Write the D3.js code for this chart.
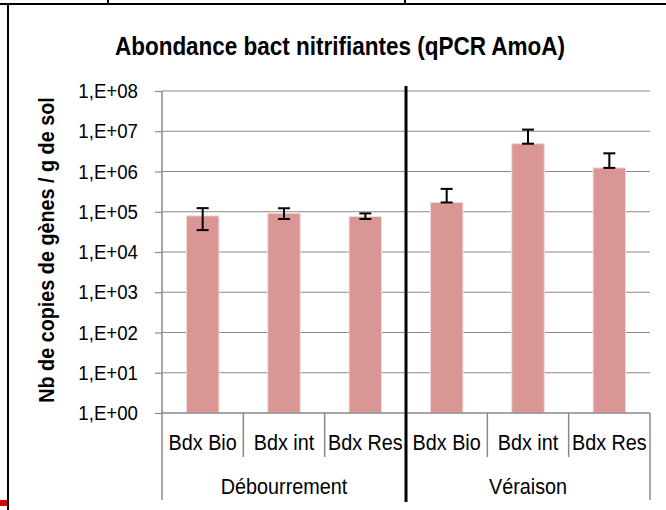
<!DOCTYPE html>
<html><head><meta charset="utf-8">
<script src="https://cdn.jsdelivr.net/npm/d3@7"></script>
<style>
body{margin:0;background:#fff;}
svg{display:block;}
text{font-family:"Liberation Sans Narrow","Arial Narrow","Liberation Sans",Arial,sans-serif;fill:#000;}
</style></head>
<body>
<svg id="chart" width="666" height="510"></svg>
<script>
const title = "Abondance bact nitrifiantes (qPCR AmoA)";
const yTitle = "Nb de copies de gènes / g de sol";
const groups = ["Débourrement", "Véraison"];
const subCategories = ["Bdx Bio", "Bdx int", "Bdx Res", "Bdx Bio", "Bdx int", "Bdx Res"];
const categoryGroup = [0, 0, 0, 1, 1, 1];
const values = [7.9e4, 9.2e4, 7.6e4, 1.7e5, 4.9e6, 1.23e6];
const errPlus = [4.4e4, 3.0e4, 1.5e4, 2.0e5, 6.1e6, 1.6e6];
const errMinus = [4.4e4, 2.6e4, 1.0e4, 0, 0, 0];
const yTicks = [1e0, 1e1, 1e2, 1e3, 1e4, 1e5, 1e6, 1e7, 1e8];

const svg = d3.select("#chart");
const plotL = 162, plotR = 650, plotT = 91, plotB = 413;
const SX = 0.9; // horizontal condensing to mimic a narrow font

const y = d3.scaleLog().domain([1, 1e8]).range([plotB, plotT]);
const x = d3.scaleBand().domain(d3.range(subCategories.length)).range([plotL, plotR])
  .paddingInner(0.6).paddingOuter(0.3);
const step = x.step();

function label(parent, px, py, txt, size, opts = {}) {
  const t = parent.append("text")
    .attr("transform", `translate(${px},${py})${opts.rotate ? " rotate(" + opts.rotate + ")" : ""} scale(${opts.sx || SX},1)`)
    .attr("text-anchor", opts.anchor || "middle")
    .attr("font-size", size).text(txt);
  if (opts.bold) t.attr("font-weight", "bold");
  return t;
}

// outer frame fragments
svg.append("line").attr("x1", 0).attr("x2", 666).attr("y1", 4).attr("y2", 4).attr("stroke", "#000").attr("stroke-width", 2);
svg.append("line").attr("x1", 8).attr("x2", 8).attr("y1", 4).attr("y2", 510).attr("stroke", "#000").attr("stroke-width", 2);
[108, 405].forEach(px => svg.append("line").attr("x1", px).attr("x2", px).attr("y1", 0).attr("y2", 4).attr("stroke", "#000").attr("stroke-width", 2));
svg.append("rect").attr("x", 0).attr("y", 500).attr("width", 7).attr("height", 6).attr("fill", "#d40000");

// title
label(svg, 340, 55, title, 25, { bold: true });

// gridlines
svg.append("g").selectAll("line").data(yTicks.slice(1)).join("line")
  .attr("x1", plotL).attr("x2", plotR).attr("y1", d => y(d)).attr("y2", d => y(d))
  .attr("stroke", "#8a8a8a").attr("stroke-width", 1.2);

// y axis
const yAxis = d3.axisLeft(y).tickValues(yTicks).tickSize(7).tickPadding(17)
  .tickFormat(d => "1,E+" + String(Math.round(Math.log10(d))).padStart(2, "0"));
const gy = svg.append("g").attr("transform", `translate(${plotL},0)`).call(yAxis);
gy.attr("font-family", null).attr("font-size", null);
gy.select(".domain").remove();
gy.selectAll(".tick line").attr("stroke", "#8a8a8a").attr("stroke-width", 1.2);
gy.selectAll(".tick text").attr("font-size", 21).attr("fill", "#000")
  .attr("x", -24 / 0.89).attr("transform", "scale(0.89,1)");

// y axis line
svg.append("line").attr("x1", plotL).attr("x2", plotL).attr("y1", plotT).attr("y2", plotB)
  .attr("stroke", "#8a8a8a").attr("stroke-width", 1.5);

// y title
label(svg, 54, (97 + 403) / 2, yTitle, 22, { bold: true, rotate: -90 });

// bars
svg.append("g").selectAll("rect").data(values).join("rect")
  .attr("x", (d, i) => x(i)).attr("width", x.bandwidth())
  .attr("y", d => y(d)).attr("height", d => plotB - y(d))
  .attr("fill", "#d99694").attr("stroke", "#f2dcdb").attr("stroke-width", 1);

// error bars
const eg = svg.append("g").attr("stroke", "#000").attr("stroke-width", 2);
values.forEach((v, i) => {
  const cx = x(i) + x.bandwidth() / 2;
  const yHi = y(v + errPlus[i]), yLo = y(v - errMinus[i]);
  eg.append("line").attr("x1", cx).attr("x2", cx).attr("y1", yHi).attr("y2", yLo);
  eg.append("line").attr("x1", cx - 6).attr("x2", cx + 6).attr("y1", yHi).attr("y2", yHi);
  eg.append("line").attr("x1", cx - 6).attr("x2", cx + 6).attr("y1", yLo).attr("y2", yLo);
});

// x axis line
svg.append("line").attr("x1", plotL).attr("x2", plotR).attr("y1", plotB).attr("y2", plotB)
  .attr("stroke", "#8a8a8a").attr("stroke-width", 1.5);

// category separators
const bounds = d3.range(subCategories.length + 1);
svg.append("g").selectAll("line").data(bounds).join("line")
  .attr("x1", i => plotL + i * step).attr("x2", i => plotL + i * step)
  .attr("y1", plotB).attr("y2", i => (i % 3 === 0 ? 500 : 457))
  .attr("stroke", "#8a8a8a").attr("stroke-width", 1.5);

// sub labels
const gs = svg.append("g");
subCategories.forEach((d, i) => label(gs, x(i) + x.bandwidth() / 2, 450, d, 22));

// group labels
const gg = svg.append("g");
groups.forEach((d, g) => label(gg, plotL + (g * 3 + 1.5) * step, 494, d, 22));

// thick separator between groups
svg.append("line").attr("x1", plotL + 3 * step).attr("x2", plotL + 3 * step)
  .attr("y1", 86).attr("y2", 502).attr("stroke", "#000").attr("stroke-width", 3);
</script>
</body></html>
